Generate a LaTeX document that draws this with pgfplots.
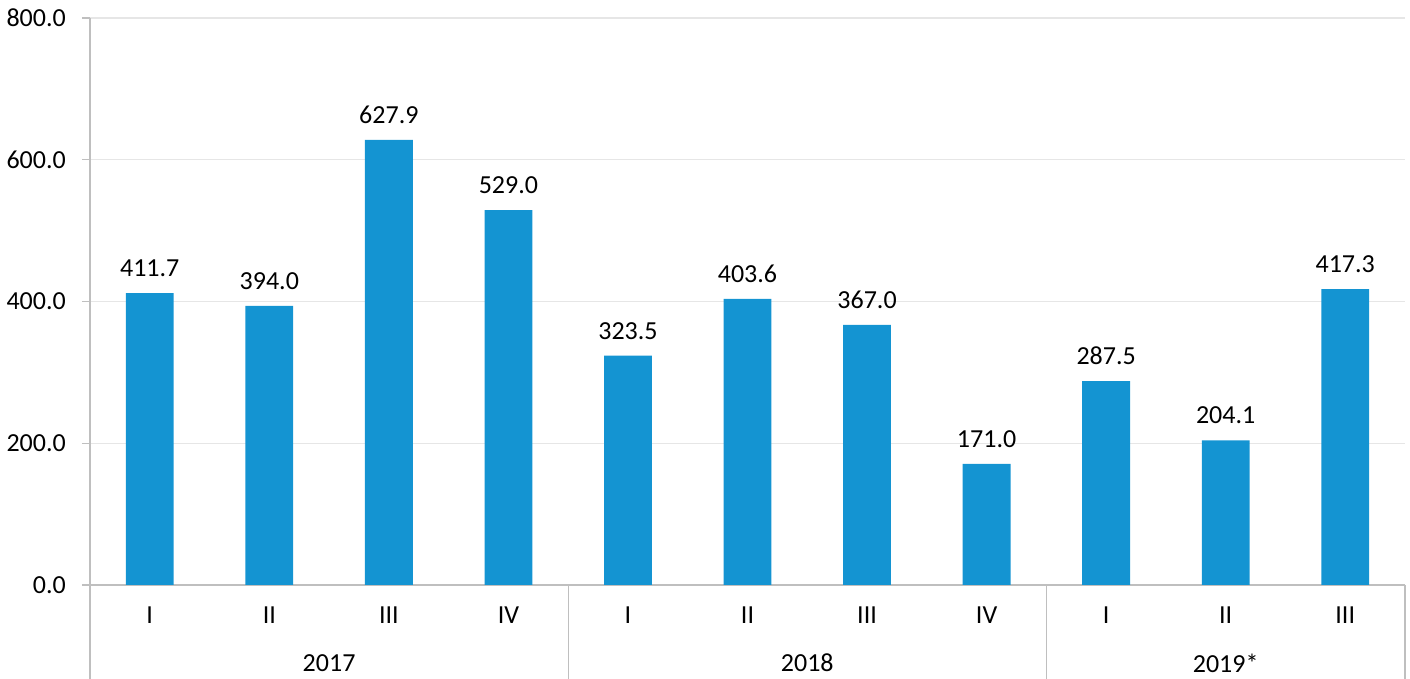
\documentclass[border=0pt]{standalone}
\usepackage{fontspec}
\setmainfont{Carlito}
\usepackage{pgfplots}
\pgfplotsset{compat=1.18}
\definecolor{barblue}{RGB}{20,148,210}
\definecolor{gridgray}{RGB}{230,230,230}
\definecolor{axisgray}{RGB}{191,191,191}
\begin{document}
\begin{tikzpicture}
\path[use as bounding box] (-90pt,-94pt) rectangle (1320pt,585pt);
\begin{axis}[
  scale only axis,
  width=1315pt, height=567pt,
  xmin=-0.5, xmax=10.5,
  ymin=0, ymax=800,
  ytick={0,200,400,600,800},
  xtick=data,
  xticklabels={I,II,III,IV,I,II,III,IV,I,II,III},
  major x tick style={draw=none},
  ymajorgrids,
  grid style={gridgray, line width=1.2pt},
  axis x line*=bottom,
  axis y line*=left,
  axis line style={axisgray, line width=1.2pt, -},
  y axis line style={axisgray},
  tick align=outside,
  major tick length=8pt,
  major y tick style={axisgray, line width=1.2pt},
  clip=false,
  /pgf/number format/.cd, fixed, fixed zerofill, precision=1, assume math mode=true,
  /pgfplots/.cd,
  tick label style={font=\fontsize{26}{31}\selectfont, text=black},
  yticklabel style={anchor=east, inner sep=0pt, xshift=-16pt},
  xticklabel style={anchor=center, inner sep=0pt, yshift=-22pt},
  ybar,
  bar width=0.4,
  nodes near coords,
  nodes near coords style={font=\fontsize{26}{31}\selectfont, text=black, anchor=south, inner sep=0pt, yshift=16pt,
    /pgf/number format/.cd, fixed, fixed zerofill, precision=1, assume math mode=true},
]
\addplot[fill=barblue, draw=none] coordinates {
(0,411.7) (1,394.0) (2,627.9) (3,529.0) (4,323.5) (5,403.6) (6,367.0) (7,171.0) (8,287.5) (9,204.1) (10,417.3)};
\draw[axisgray, line width=1.2pt] (axis cs:-0.5,0) -- ([yshift=-94pt]axis cs:-0.5,0);
\draw[axisgray, line width=1.2pt] (axis cs:3.5,0) -- ([yshift=-94pt]axis cs:3.5,0);
\draw[axisgray, line width=1.2pt] (axis cs:7.5,0) -- ([yshift=-94pt]axis cs:7.5,0);
\draw[axisgray, line width=1.2pt] (axis cs:10.5,0) -- ([yshift=-94pt]axis cs:10.5,0);
\node[font=\fontsize{26}{31}\selectfont, anchor=center, inner sep=0pt] at ([yshift=-78pt]axis cs:1.5,0) {2017};
\node[font=\fontsize{26}{31}\selectfont, anchor=center, inner sep=0pt] at ([yshift=-78pt]axis cs:5.5,0) {2018};
\node[font=\fontsize{26}{31}\selectfont, anchor=center, inner sep=0pt] at ([yshift=-78pt]axis cs:9,0) {2019*};
\end{axis}
\end{tikzpicture}
\end{document}
